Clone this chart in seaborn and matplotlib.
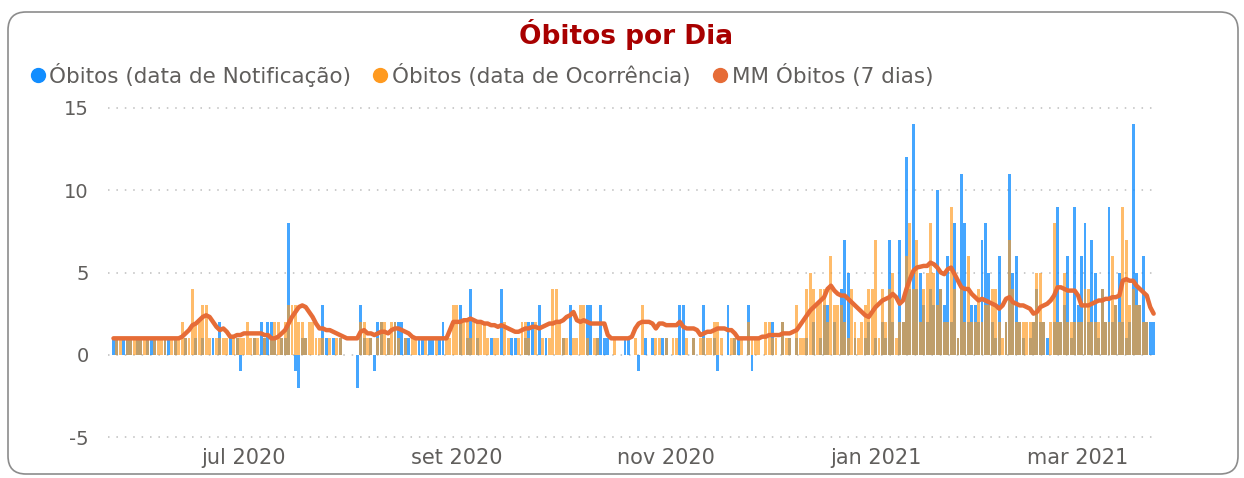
import pandas as pd
import seaborn as sns
import matplotlib.pyplot as plt
from matplotlib.lines import Line2D
from matplotlib.patches import FancyBboxPatch

# Daily values, 24 mai 2020 -> 23 mar 2021
first_day = "2020-05-24"

# Óbitos (data de Notificação) - blue bars
obitos_notificacao = [
    # mai (24-31)
    1, 1, 0, 1, 1, 1, 0, 1,
    # jun
    1, 0, 1, 1, 1, 0, 0, 1, 1, 0, 1, 0, 0, 1, 0, 0, 1, 0, 1, 0,
    0, 1, 0, 2, 0, 0, 1, 0, 1, -1,
    # jul
    0, 0, 0, 1, 0, 2, 1, 2, 2, 1, 0, 1, 1, 8, 0, -1, -2, 1, 1, 0,
    0, 0, 0, 3, 1, 0, 1, 0, 1, 0, 0,
    # ago
    0, 0, -2, 3, 1, 0, 1, -1, 2, 2, 0, 1, 0, 2, 2, 2, 1, 1, 0, 0,
    1, 1, 0, 1, 1, 0, 1, 2, 0, 0, 0,
    # set
    0, 3, 0, 1, 4, 0, 1, 0, 0, 0, 1, 0, 0, 4, 0, 0, 1, 1, 0, 0,
    1, 2, 2, 0, 3, 0, 1, 0, 0, 0,
    # out
    0, 1, 0, 3, 0, 0, 0, 0, 3, 3, 0, 1, 3, 1, 1, 0, 0, 0, 0, 1,
    1, 0, 0, -1, 0, 1, 0, 1, 0, 0, 1,
    # nov
    1, 0, 0, 0, 3, 3, 0, 0, 1, 0, 0, 3, 0, 0, 1, -1, 0, 0, 3, 0,
    1, 1, 0, 0, 3, -1, 0, 0, 0, 0,
    # dez
    0, 2, 0, 0, 2, 0, 1, 0, 1, 0, 0, 1, 0, 2, 0, 1, 3, 3, 0, 2,
    0, 4, 7, 5, 0, 1, 0, 0, 1, 2, 0,
    # jan
    1, 0, 2, 1, 7, 2, 0, 7, 2, 12, 4, 14, 4, 5, 3, 2, 4, 3, 10, 4,
    3, 6, 2, 8, 1, 11, 8, 2, 3, 3, 2,
    # fev
    7, 8, 5, 2, 1, 6, 0, 2, 11, 5, 6, 2, 1, 0, 1, 2, 4, 2, 2, 1,
    0, 2, 9, 2, 3, 6, 1, 9,
    # mar (1-23)
    3, 6, 8, 2, 7, 5, 1, 4, 2, 9, 2, 3, 5, 2, 1, 2, 14, 5, 3, 6,
    2, 2, 2,
]

# Óbitos (data de Ocorrência) - orange bars
obitos_ocorrencia = [
    # mai
    0, 1, 1, 0, 1, 1, 1, 1,
    # jun
    1, 1, 1, 0, 1, 1, 1, 1, 0, 1, 1, 1, 2, 1, 1, 4, 2, 2, 3, 3,
    1, 0, 1, 1, 1, 1, 0, 1, 1, 1,
    # jul
    1, 2, 1, 1, 1, 0, 1, 0, 1, 2, 2, 1, 2, 3, 3, 3, 2, 2, 1, 2,
    2, 1, 1, 1, 0, 1, 0, 1, 1, 0, 0,
    # ago
    0, 0, 0, 2, 2, 1, 1, 0, 1, 2, 2, 1, 2, 2, 1, 0, 1, 0, 1, 1,
    0, 0, 1, 0, 0, 1, 0, 0, 1, 1, 3,
    # set
    3, 2, 2, 2, 1, 2, 2, 2, 2, 1, 0, 1, 1, 0, 2, 1, 0, 0, 1, 2,
    2, 1, 0, 2, 0, 1, 0, 1, 4, 4,
    # out
    2, 1, 1, 0, 1, 1, 3, 3, 1, 0, 1, 1, 0, 0, 0, 0, 1, 0, 0, 0,
    0, 0, 1, 0, 3, 0, 0, 0, 1, 1, 0,
    # nov
    1, 0, 1, 1, 0, 0, 1, 0, 1, 0, 1, 1, 1, 1, 2, 2, 1, 0, 0, 1,
    1, 0, 1, 0, 2, 1, 1, 1, 0, 2,
    # dez
    2, 1, 1, 0, 2, 1, 1, 0, 3, 1, 1, 4, 5, 4, 3, 4, 4, 2, 6, 3,
    3, 3, 2, 1, 4, 2, 1, 2, 3, 4, 4,
    # jan
    7, 1, 4, 2, 4, 5, 1, 2, 2, 6, 8, 4, 7, 2, 4, 5, 8, 5, 3, 4,
    2, 2, 9, 4, 1, 4, 2, 6, 2, 2, 4,
    # fev
    2, 3, 3, 4, 4, 2, 1, 2, 7, 4, 2, 2, 2, 2, 2, 2, 5, 5, 2, 0,
    2, 8, 2, 2, 5, 2, 2, 2,
    # mar
    2, 2, 4, 4, 2, 2, 2, 4, 2, 2, 6, 3, 2, 9, 7, 3, 4, 3, 3, 2,
    2, 0, 0,
]

# MM Óbitos (7 dias) - line
media_movel_7d = [
    # mai
    1.0, 1.0, 1.0, 1.0, 1.0, 1.0, 1.0, 1.0,
    # jun
    1.0, 1.0, 1.0, 1.0, 1.0, 1.0, 1.0, 1.0, 1.0, 1.0, 1.0, 1.0,
    1.1, 1.3, 1.5, 1.8, 1.9, 2.1, 2.3, 2.4, 2.3, 2.0, 1.7, 1.5,
    1.6, 1.4, 1.1, 1.1, 1.2, 1.2,
    # jul
    1.3, 1.3, 1.3, 1.3, 1.3, 1.3, 1.2, 1.2, 1.0, 1.0, 1.1, 1.3,
    1.5, 1.9, 2.3, 2.6, 2.9, 3.0, 2.9, 2.6, 2.3, 1.9, 1.6, 1.6,
    1.5, 1.5, 1.4, 1.3, 1.2, 1.1, 1.0,
    # ago
    1.0, 1.0, 1.0, 1.4, 1.5, 1.3, 1.3, 1.2, 1.3, 1.4, 1.4, 1.3,
    1.5, 1.6, 1.6, 1.5, 1.4, 1.3, 1.1, 1.0, 1.0, 1.0, 1.0, 1.0,
    1.0, 1.0, 1.0, 1.0, 1.0, 1.5, 2.0,
    # set
    2.0, 2.0, 2.1, 2.1, 2.2, 2.1, 2.0, 2.0, 1.9, 1.9, 1.8, 1.8,
    1.7, 1.8, 1.7, 1.6, 1.5, 1.4, 1.4, 1.5, 1.6, 1.6, 1.7, 1.7,
    1.6, 1.7, 1.8, 1.9, 1.9, 2.0,
    # out
    2.0, 2.1, 2.3, 2.4, 2.6, 2.1, 2.0, 2.1, 2.0, 1.9, 1.9, 1.9,
    1.9, 1.9, 1.2, 1.0, 1.0, 1.0, 1.0, 1.0, 1.0, 1.1, 1.6, 1.9,
    2.0, 2.0, 2.0, 1.9, 1.6, 1.9, 1.9,
    # nov
    1.8, 1.8, 1.8, 1.8, 2.0, 1.7, 1.6, 1.6, 1.6, 1.5, 1.2, 1.3,
    1.4, 1.4, 1.5, 1.6, 1.6, 1.6, 1.5, 1.5, 1.3, 1.0, 1.0, 1.0,
    1.0, 1.0, 1.0, 1.0, 1.1, 1.1,
    # dez
    1.2, 1.2, 1.2, 1.2, 1.3, 1.3, 1.3, 1.4, 1.5, 1.8, 2.1, 2.4,
    2.7, 2.9, 3.1, 3.3, 3.5, 4.0, 4.2, 3.9, 3.7, 3.6, 3.6, 3.4,
    3.2, 3.0, 2.8, 2.6, 2.4, 2.3, 2.6,
    # jan
    2.9, 3.1, 3.3, 3.4, 3.5, 3.7, 3.5, 3.1, 3.3, 4.0, 4.6, 5.1,
    5.3, 5.35, 5.4, 5.4, 5.6, 5.5, 5.3, 5.0, 4.9, 5.2, 5.3, 4.9,
    4.5, 4.1, 4.0, 4.0, 3.7, 3.5, 3.3,
    # fev
    3.4, 3.3, 3.2, 3.1, 3.0, 2.8, 3.0, 3.4, 3.5, 3.2, 3.1, 3.0,
    3.0, 2.9, 2.8, 2.5, 2.6, 2.9, 3.0, 3.1, 3.3, 3.6, 4.1, 4.1,
    4.0, 3.9, 3.9, 3.9,
    # mar
    3.6, 3.0, 3.0, 3.0, 3.1, 3.2, 3.3, 3.3, 3.4, 3.4, 3.5, 3.5,
    3.6, 4.5, 4.6, 4.5, 4.5, 4.2, 4.0, 3.8, 3.6, 2.9, 2.5,
]

tick_dates = ["2020-07-01", "2020-09-01", "2020-11-01", "2021-01-01", "2021-03-01"]
tick_labels = ["jul 2020", "set 2020", "nov 2020", "jan 2021", "mar 2021"]
y_ticks = [-5, 0, 5, 10, 15]
legend_labels = ["Óbitos (data de Notificação)", "Óbitos (data de Ocorrência)",
                 "MM Óbitos (7 dias)"]

BLUE = "#118DFF"
ORANGE = "#FF9A1F"
LINE = "#E66C37"
TEXT = "#605E5C"

df = pd.DataFrame({
    "data": pd.date_range(first_day, periods=len(obitos_notificacao), freq="D"),
    "notificacao": obitos_notificacao,
    "ocorrencia": obitos_ocorrencia,
    "mm7": media_movel_7d,
})

sns.set_theme(style="white")
plt.rcParams["font.family"] = ["DejaVu Sans"]

fig = plt.figure(figsize=(12.44, 4.78), dpi=100)
fig.patch.set_facecolor("white")

# rounded card behind the visual
card = FancyBboxPatch((0.08, 0.04), 12.30, 4.62,
                      boxstyle="round,pad=0,rounding_size=0.18",
                      transform=fig.dpi_scale_trans, facecolor="white",
                      edgecolor="#8C8C8C", linewidth=1.2, zorder=-1)
fig.add_artist(card)

ax = fig.add_axes([0.0868, 0.0753, 0.8425, 0.7092])
ax.set_facecolor("none")

ax.bar(df["data"], df["notificacao"], width=0.85, color=BLUE, alpha=0.78,
       linewidth=0, zorder=2)
ax.bar(df["data"], df["ocorrencia"], width=0.85, color=ORANGE, alpha=0.66,
       linewidth=0, zorder=3)
sns.lineplot(data=df, x="data", y="mm7", color=LINE, linewidth=3.2, ax=ax,
             zorder=4, solid_joinstyle="round", solid_capstyle="round")

jul1 = pd.Timestamp("2020-07-01")
ax.set_xlim(jul1 - pd.Timedelta(days=39.6), jul1 + pd.Timedelta(days=265.7))
ax.set_ylim(-5.3, 15.3)
ax.set_xticks(pd.to_datetime(tick_dates))
ax.set_xticklabels(tick_labels)
ax.set_yticks(y_ticks)
ax.set_yticklabels([str(v) for v in y_ticks])
ax.set_xlabel("")
ax.set_ylabel("")

ax.yaxis.grid(True, linestyle=(0, (1, 4.5)), color="#BDBDBD", linewidth=1.1)
ax.xaxis.grid(False)
ax.set_axisbelow(True)
sns.despine(ax=ax, left=True, bottom=True)
ax.tick_params(axis="y", length=0, pad=14, labelsize=14, labelcolor=TEXT)
ax.tick_params(axis="x", length=0, pad=4, labelsize=15, labelcolor=TEXT)

fig.text(0.503, 1 - 35 / 478, "Óbitos por Dia", ha="center", va="center",
         fontsize=19, fontweight="bold", color="#A80000")

handles = [Line2D([], [], marker="o", linestyle="none", markersize=10,
                  markerfacecolor=c, markeredgecolor=c)
           for c in (BLUE, ORANGE, LINE)]
fig.legend(handles, legend_labels, loc="center left",
           bbox_to_anchor=(30 / 1244, 1 - 75 / 478), ncol=3, frameon=False,
           fontsize=15.5, labelcolor=TEXT, handlelength=0.7, handletextpad=0.2,
           columnspacing=1.0, borderaxespad=0, borderpad=0)

fig.savefig("out.png", dpi=100)
